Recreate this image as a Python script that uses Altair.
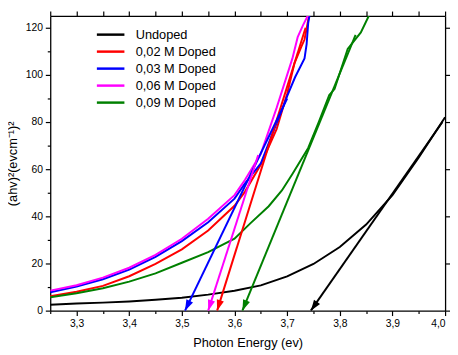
import math
import altair as alt
import pandas as pd

# ---------------- data ----------------
series_names = ["Undoped", "0,02 M Doped", "0,03 M Doped", "0,06 M Doped", "0,09 M Doped"]
series_colors = ["#000000", "#ff0000", "#0000ff", "#ff00ff", "#008000"]

undoped_x = [3.25, 3.3, 3.35, 3.4, 3.45, 3.5, 3.55, 3.6, 3.65, 3.7, 3.75, 3.8, 3.85, 3.9, 3.95, 4.0]
undoped_y = [2.5, 3.0, 3.4, 3.9, 4.6, 5.5, 6.8, 8.4, 10.7, 14.5, 19.8, 27.0, 36.5, 49.0, 65.0, 82.0]

d02_x = [3.25, 3.3, 3.35, 3.4, 3.45, 3.5, 3.55, 3.6, 3.62, 3.65, 3.68, 3.70, 3.714, 3.727, 3.733, 3.739, 3.742]
d02_y = [6.1, 8.0, 10.5, 14.6, 19.8, 26.0, 34.0, 44.5, 50.5, 62.0, 77.0, 92.0, 105.0, 112.0, 115.0, 122.0, 126.0]

d03_x = [3.25, 3.3, 3.35, 3.4, 3.45, 3.5, 3.55, 3.6, 3.62, 3.65, 3.68, 3.69, 3.70, 3.715, 3.733, 3.737, 3.74, 3.743]
d03_y = [7.8, 10.2, 13.3, 17.4, 22.8, 29.5, 37.5, 47.5, 54.0, 62.5, 79.5, 85.0, 91.0, 99.0, 107.0, 113.0, 122.0, 126.0]

d06_x = [3.25, 3.3, 3.35, 3.4, 3.45, 3.5, 3.55, 3.6, 3.62, 3.65, 3.68, 3.70, 3.71, 3.72, 3.73, 3.74]
d06_y = [8.5, 10.8, 14.0, 18.2, 23.7, 30.5, 39.0, 49.0, 55.5, 66.5, 86.0, 100.0, 107.0, 116.0, 121.0, 125.5]

d09_x = [3.25, 3.3, 3.35, 3.4, 3.45, 3.5, 3.55, 3.6, 3.63, 3.665, 3.69, 3.71, 3.74, 3.76, 3.78, 3.79, 3.815, 3.84, 3.855]
d09_y = [5.7, 7.4, 9.5, 12.3, 15.8, 20.3, 24.8, 30.5, 37.0, 44.3, 51.0, 58.0, 69.0, 80.0, 91.5, 94.0, 111.0, 118.0, 125.0]

# tangent (extrapolation) arrows: start point and tip on the energy axis
arrow_start_x = [3.995, 3.735, 3.70, 3.645, 3.83]
arrow_start_y = [80.0, 120.0, 90.0, 66.0, 117.0]
arrow_tip_x = [3.745, 3.567, 3.506, 3.55, 3.615]
arrow_tip_y = [0.0, 0.0, 0.0, 0.0, 0.0]

x_major = [3.3, 3.4, 3.5, 3.6, 3.7, 3.8, 3.9, 4.0]
x_minor = [3.25, 3.35, 3.45, 3.55, 3.65, 3.75, 3.85, 3.95]
y_major = [0, 20, 40, 60, 80, 100, 120]
y_minor = [10, 30, 50, 70, 90, 110]

# ---------------- layout ----------------
W, H = 402, 300
X_DOM = [3.25, 4.0]
Y_DOM = [0, 125]
FONT = "Liberation Sans"

curves = [(undoped_x, undoped_y), (d02_x, d02_y), (d03_x, d03_y), (d06_x, d06_y), (d09_x, d09_y)]
rows = []
for name, (xs, ys) in zip(series_names, curves):
    for i, (xv, yv) in enumerate(zip(xs, ys)):
        rows.append({"series": name, "part": "curve", "x": xv, "y": yv, "i": i})
for k, name in enumerate(series_names):
    rows.append({"series": name, "part": "arrow", "x": arrow_start_x[k], "y": arrow_start_y[k], "i": 0})
    rows.append({"series": name, "part": "arrow", "x": arrow_tip_x[k], "y": arrow_tip_y[k], "i": 1})
df = pd.DataFrame(rows)

heads = []
for k, name in enumerate(series_names):
    dx = (arrow_start_x[k] - arrow_tip_x[k]) * W / (X_DOM[1] - X_DOM[0])
    dy = (arrow_start_y[k] - arrow_tip_y[k]) * H / (Y_DOM[1] - Y_DOM[0])
    ang = math.degrees(math.atan2(dx, dy)) % 360
    heads.append({"series": name, "x": arrow_tip_x[k], "y": arrow_tip_y[k], "angle": ang})
hf = pd.DataFrame(heads)

color = alt.Color(
    "series:N",
    scale=alt.Scale(domain=series_names, range=series_colors),
    legend=alt.Legend(
        title=None, orient="none", legendX=51.5, legendY=9, padding=0,
        symbolType="M-1.65,0L1.65,0", symbolSize=289, symbolStrokeWidth=2.5,
        labelFont=FONT, labelFontSize=13, labelColor="#000", labelOffset=15.5,
        rowPadding=0.3, labelLimit=200,
    ),
    sort=series_names,
)

xaxis = alt.Axis(values=x_major, title="Photon Energy (ev)",
                 labelExpr="replace(format(datum.value, '.1f'), '.', ',')",
                 tickSize=5, labelPadding=3, titlePadding=8)
yaxis = alt.Axis(values=y_major, title="(ahv)²(evcm⁻¹)²", format="d",
                 tickSize=5, labelPadding=3, titlePadding=6)

xs = alt.X("x:Q", scale=alt.Scale(domain=X_DOM, nice=False, zero=False), axis=xaxis)
ys = alt.Y("y:Q", scale=alt.Scale(domain=Y_DOM, nice=False), axis=yaxis)

lines = alt.Chart(df).mark_line(strokeWidth=2, clip=True).encode(
    x=xs, y=ys, color=color, detail="part:N", order="i:Q"
)

head_path = "M0,0 L-0.34,-1 L0.34,-1 Z"
arrowheads = alt.Chart(hf).mark_point(
    shape=head_path, size=484, filled=True, opacity=1, strokeWidth=0
).encode(
    x=alt.X("x:Q"), y=alt.Y("y:Q"),
    color=alt.Color("series:N", legend=None),
    angle=alt.Angle("angle:Q", scale=None),
)

minor = alt.Chart(df).mark_point(opacity=0).encode(
    x=alt.X("x:Q", axis=alt.Axis(values=x_minor, labels=False, domain=False, title=None,
                                    tickSize=3, orient="bottom")),
    y=alt.Y("y:Q", axis=alt.Axis(values=y_minor, labels=False, domain=False, title=None,
                                    tickSize=3, orient="left")),
)

chart = alt.layer(lines, arrowheads, minor).resolve_axis(
    x="independent", y="independent"
).properties(
    width=W, height=H,
    autosize=alt.AutoSizeParams(type="none"),
    padding={"left": 43, "top": 5, "right": 5, "bottom": 39},
).configure_view(stroke=None).configure_axis(
    domainColor="#000", domainWidth=1.3, tickColor="#000", tickWidth=1.2,
    labelFont=FONT, labelFontSize=10.5, labelColor="#000",
    titleFont=FONT, titleFontSize=13, titleColor="#000", titleFontWeight="normal",
    grid=False,
)

chart.save("out.html", embed_options={"renderer": "svg", "actions": False})
